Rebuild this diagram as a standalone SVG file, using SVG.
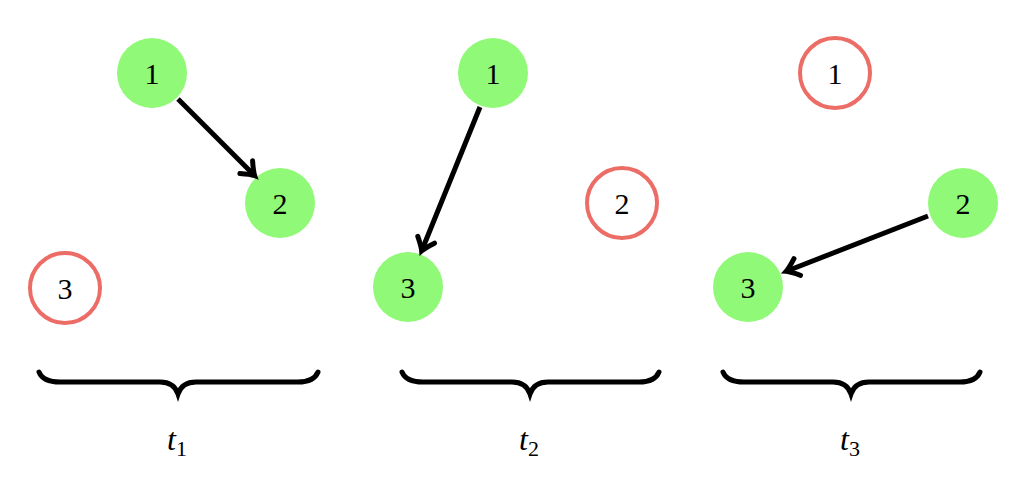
<svg xmlns="http://www.w3.org/2000/svg" width="1014" height="480" viewBox="0 0 1014 480">
<style>
.on{fill:#90f977}
.off{fill:#fff;stroke:#ec6c66;stroke-width:4}
.lbl{font-family:"Liberation Serif",serif;font-size:30px;text-anchor:middle;dominant-baseline:central}
.e{stroke:#000;stroke-width:5;fill:none}
.br{stroke:#000;stroke-width:5;fill:none;stroke-linecap:round}
.t{font-family:"Liberation Serif",serif;font-size:32px;font-style:italic;text-anchor:middle}
.s{font-style:normal;font-size:22px}
</style>
<defs>
<marker id="a" markerUnits="userSpaceOnUse" markerWidth="30" markerHeight="30" viewBox="-15 -15 30 30" orient="auto">
<path d="M-11,-9 Q-3,-2 1,0 Q-3,2 -11,9" stroke="#000" stroke-width="5" fill="none" stroke-linecap="round"/>
</marker>
</defs>
<g id="p1n1"><circle class="on" cx="152" cy="73" r="35"/><text class="lbl" x="152" y="73">1</text></g>
<g id="p1n2"><circle class="on" cx="280" cy="203" r="35"/><text class="lbl" x="280" y="203">2</text></g>
<g id="p1n3"><circle class="off" cx="65" cy="288" r="35"/><text class="lbl" x="65" y="288">3</text></g>
<g id="p2n1"><circle class="on" cx="493" cy="73" r="35"/><text class="lbl" x="493" y="73">1</text></g>
<g id="p2n2"><circle class="off" cx="622" cy="203" r="35"/><text class="lbl" x="622" y="203">2</text></g>
<g id="p2n3"><circle class="on" cx="408" cy="287" r="35"/><text class="lbl" x="408" y="287">3</text></g>
<g id="p3n1"><circle class="off" cx="835" cy="73" r="35"/><text class="lbl" x="835" y="73">1</text></g>
<g id="p3n2"><circle class="on" cx="963" cy="203" r="35"/><text class="lbl" x="963" y="203">2</text></g>
<g id="p3n3"><circle class="on" cx="748" cy="287" r="35"/><text class="lbl" x="748" y="287">3</text></g>
<g id="connectors">
<line class="e" x1="178" y1="99" x2="254" y2="175" marker-end="url(#a)"/>
<line class="e" x1="480" y1="107" x2="422" y2="250" marker-end="url(#a)"/>
<line class="e" x1="928" y1="216" x2="787" y2="271" marker-end="url(#a)"/>
</g>
<g id="braces">
<path class="br" d="M39,372 Q43,382 60,382 L160,382 Q174,382 178,394 Q182,382 196,382 L298,382 Q314,382 318,372"/>
<path class="br" d="M402,372 Q406,382 423,382 L512,382 Q526,382 530,394 Q534,382 548,382 L639,382 Q655,382 659,372"/>
<path class="br" d="M723,372 Q727,382 744,382 L833,382 Q847,382 851,394 Q855,382 869,382 L960,382 Q976,382 980,372"/>
<text class="t" x="177" y="450">t<tspan class="s" dy="6">1</tspan></text>
<text class="t" x="529" y="450">t<tspan class="s" dy="6">2</tspan></text>
<text class="t" x="850" y="450">t<tspan class="s" dy="6">3</tspan></text>
</g>
</svg>
